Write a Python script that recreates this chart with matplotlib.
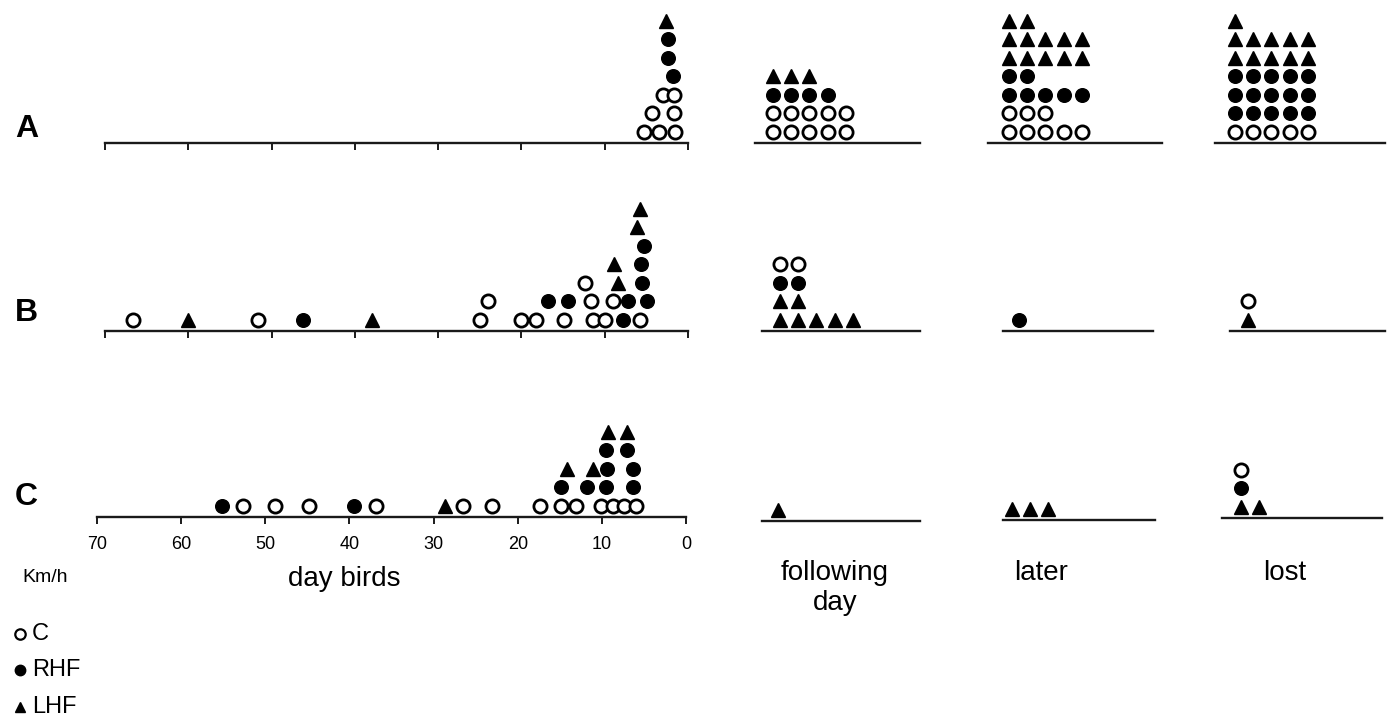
import matplotlib.pyplot as plt

plt.rcParams['font.family'] = ['Liberation Sans', 'DejaVu Sans']

W, H = 1390, 725
ROW_PX = 18.5   # vertical spacing of stacked marks
COL_PX = 18.2   # horizontal spacing in the count panels

# day birds: homing speed (km/h), stack level, group
dayA_speed = [5.3, 3.5, 1.6, 4.3, 1.7, 3.0, 1.7, 1.8, 2.4, 2.4, 2.6]
dayA_level = [0, 0, 0, 1, 1, 2, 2, 3, 4, 5, 6]
dayA_group = ['C', 'C', 'C', 'C', 'C', 'C', 'C', 'RHF', 'RHF', 'RHF', 'LHF']

dayB_speed = [66.6, 60.0, 51.6, 46.2, 37.9, 25.0, 20.0, 18.2, 14.9, 11.4, 10.0, 7.8, 5.8,
              24.0, 16.8, 14.4, 11.6, 9.0, 7.2, 4.9,
              12.4, 8.4, 5.5, 8.9, 5.6, 5.3, 6.1, 5.8]
dayB_level = [0, 0, 0, 0, 0, 0, 0, 0, 0, 0, 0, 0, 0,
              1, 1, 1, 1, 1, 1, 1,
              2, 2, 2, 3, 3, 4, 5, 6]
dayB_group = ['C', 'LHF', 'C', 'RHF', 'LHF', 'C', 'C', 'C', 'C', 'C', 'C', 'RHF', 'C',
              'C', 'RHF', 'RHF', 'C', 'C', 'RHF', 'RHF',
              'C', 'LHF', 'RHF', 'LHF', 'RHF', 'RHF', 'LHF', 'LHF']

dayC_speed = [55.1, 52.7, 48.9, 44.8, 39.4, 36.8, 28.7, 26.5, 23.0, 17.3, 14.9, 13.1,
              10.1, 8.7, 7.4, 6.0,
              14.8, 11.8, 9.5, 6.3,
              14.2, 11.1, 9.4, 6.3,
              9.5, 7.0, 9.3, 7.0]
dayC_level = [0, 0, 0, 0, 0, 0, 0, 0, 0, 0, 0, 0, 0, 0, 0, 0,
              1, 1, 1, 1, 2, 2, 2, 2, 3, 3, 4, 4]
dayC_group = ['RHF', 'C', 'C', 'C', 'RHF', 'C', 'LHF', 'C', 'C', 'C', 'C', 'C',
              'C', 'C', 'C', 'C',
              'RHF', 'RHF', 'RHF', 'RHF',
              'LHF', 'LHF', 'RHF', 'RHF',
              'RHF', 'RHF', 'LHF', 'LHF']

# counts for rows A, B, C
following_C = [10, 2, 0]
following_RHF = [4, 2, 0]
following_LHF = [3, 7, 1]
later_C = [8, 0, 0]
later_RHF = [7, 1, 0]
later_LHF = [12, 0, 3]
lost_C = [5, 1, 1]
lost_RHF = [15, 0, 1]
lost_LHF = [11, 1, 2]

row_labels = ['A', 'B', 'C']
stack_order = [['C', 'RHF', 'LHF'], ['LHF', 'RHF', 'C'], ['LHF', 'RHF', 'C']]
speed_ticks = [70, 60, 50, 40, 30, 20, 10, 0]

STYLE = {
    'C': dict(marker='o', mfc='white', mec='black', ms=9.5, mew=2.0),
    'RHF': dict(marker='o', mfc='black', mec='black', ms=9.8, mew=1),
    'LHF': dict(marker='^', mfc='black', mec='black', ms=10.5, mew=1),
}

fig = plt.figure(figsize=(W / 100, H / 100), dpi=100)


def px_axes(x0, x1, ybase, h=150):
    ax = fig.add_axes([x0 / W, (H - ybase) / H, (x1 - x0) / W, h / H])
    for s in ['top', 'left', 'right']:
        ax.spines[s].set_visible(False)
    ax.spines['bottom'].set_linewidth(1.7)
    ax.spines['bottom'].set_color('#1a1a1a')
    ax.set_yticks([])
    ax.set_ylim(0, h / ROW_PX)
    ax.patch.set_alpha(0)
    return ax


def draw(ax, xs, levels, groups):
    for g in ['C', 'RHF', 'LHF']:
        px = [x for x, gg in zip(xs, groups) if gg == g]
        py = [0.62 + l for l, gg in zip(levels, groups) if gg == g]
        if px:
            ax.plot(px, py, ls='none', clip_on=False, **STYLE[g])


# ---- day birds panels ----
day_boxes = [(105, 688, 143), (105, 688, 331), (97, 686, 517)]
day_data = [(dayA_speed, dayA_level, dayA_group),
            (dayB_speed, dayB_level, dayB_group),
            (dayC_speed, dayC_level, dayC_group)]
for r, (box, data) in enumerate(zip(day_boxes, day_data)):
    ax = px_axes(*box)
    ax.set_xlim(70, 0)
    ax.set_xticks(speed_ticks)
    ax.tick_params(axis='x', direction='out', length=5, width=1.4, color='#1a1a1a',
                   labelbottom=(r == 2), labelsize=13, pad=9)
    draw(ax, *data)

# ---- count panels ----
count_boxes = {
    'following': [(755, 920, 143, 773), (762, 920, 331, 780), (762, 920, 521, 778)],
    'later': [(988, 1162, 143, 1009), (1003, 1153, 331, 1019), (1003, 1155, 520, 1012)],
    'lost': [(1215, 1385, 143, 1235), (1230, 1385, 331, 1248), (1222, 1382, 518, 1241)],
}
counts = {
    'following': {'C': following_C, 'RHF': following_RHF, 'LHF': following_LHF},
    'later': {'C': later_C, 'RHF': later_RHF, 'LHF': later_LHF},
    'lost': {'C': lost_C, 'RHF': lost_RHF, 'LHF': lost_LHF},
}
for name, boxes in count_boxes.items():
    for r, (x0, x1, yb, first) in enumerate(boxes):
        ax = px_axes(x0, x1, yb)
        ax.set_xlim(-(first - x0) / COL_PX, (x1 - first) / COL_PX)
        ax.set_xticks([])
        xs, lv, gs = [], [], []
        row = 0
        for g in stack_order[r]:
            n = counts[name][g][r]
            for k in range(n):
                xs.append(k % 5)
                lv.append(row + k // 5)
                gs.append(g)
            row += (n + 4) // 5
        draw(ax, xs, lv, gs)

# ---- texts ----
for lab, yc in zip(row_labels, [129, 313, 497]):
    fig.text(15 / W, 1 - yc / H, lab, fontsize=23, fontweight='bold', ha='left', va='center')

fig.text(22 / W, 1 - 578 / H, 'Km/h', fontsize=14, ha='left', va='center')
fig.text(344 / W, 1 - 579 / H, 'day birds', fontsize=20, ha='center', va='center')
fig.text(835 / W, 1 - 588 / H, 'following\nday', fontsize=20, ha='center', va='center',
         linespacing=1.25)
fig.text(1041 / W, 1 - 573 / H, 'later', fontsize=20, ha='center', va='center')
fig.text(1285 / W, 1 - 573 / H, 'lost', fontsize=20, ha='center', va='center')

# legend
for g, lab, yc in zip(['C', 'RHF', 'LHF'], ['C', 'RHF', 'LHF'], [634, 670, 707]):
    st = dict(STYLE[g])
    st['ms'] = 7.5
    st['mew'] = 1.6 if g == 'C' else 1
    fig.lines.append(plt.Line2D([20 / W], [1 - yc / H], transform=fig.transFigure,
                                ls='none', **st))
    fig.text(32 / W, 1 - yc / H, lab, fontsize=17, ha='left', va='center')

fig.savefig('out.png', dpi=100, facecolor='white')
